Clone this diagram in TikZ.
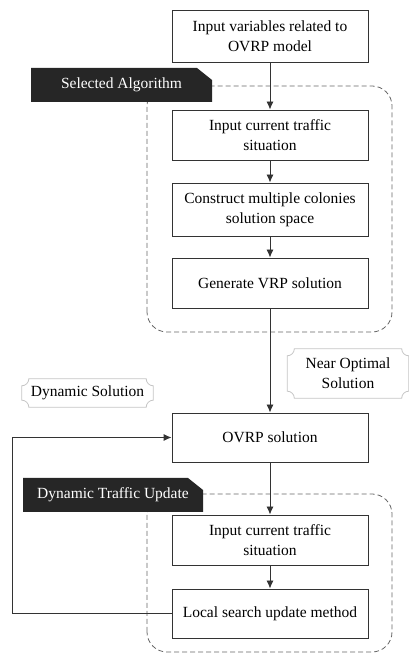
\documentclass[tikz,border=0pt]{standalone}
\usepackage{fontspec}
\setmainfont{Liberation Serif}
\usetikzlibrary{calc,arrows.meta}

\definecolor{tagdark}{HTML}{262626}
\definecolor{boxline}{HTML}{333333}
\definecolor{softline}{HTML}{C4C4C4}

% concave corner outline round a note node
\newcommand{\notchbox}[2][7]{%
\draw[softline,line width=0.8pt]
 ($(#2.north west)+(#1,0)$) -- ($(#2.north east)-(#1,0)$)
 arc[start angle=180,end angle=270,radius=#1]
 -- ($(#2.south east)+(0,#1)$) arc[start angle=90,end angle=180,radius=#1]
 -- ($(#2.south west)+(#1,0)$) arc[start angle=0,end angle=90,radius=#1]
 -- ($(#2.north west)-(0,#1)$) arc[start angle=270,end angle=360,radius=#1]
 -- cycle;}

\begin{document}
\begin{tikzpicture}[x=1pt,y=1pt,
  procbox/.style={draw=boxline,line width=0.9pt,align=center,
    minimum width=196pt,minimum height=50pt,inner sep=2pt,
    font=\fontsize{15.5}{20}\selectfont},
  flow/.style={draw=boxline,line width=0.9pt,-{Latex[length=8pt,width=7pt]}},
  groupline/.style={draw=gray!80!black,line width=0.8pt,
    dash pattern=on 5pt off 3pt,rounded corners=20pt},
  tag/.style={text=white,minimum height=34pt,inner sep=0pt,
    font=\fontsize{15.5}{18}\selectfont,
    path picture={\fill[tagdark] (path picture bounding box.south west)
      -- (path picture bounding box.north west)
      -- ([xshift=-15pt]path picture bounding box.north east)
      -- ([yshift=-12pt]path picture bounding box.north east)
      -- (path picture bounding box.south east) -- cycle;}},
  note/.style={align=center,inner sep=0pt,
    font=\fontsize{15.5}{20}\selectfont}]

\useasboundingbox (0,0) rectangle (409,655);

% dashed groups first, tags go over them
\draw[groupline] (147,323) rectangle (392,569);
\draw[groupline] (147,3) rectangle (392,161);

\node[procbox,minimum height=52pt] (vars) at (270,619) {Input variables related to\\OVRP model};
\node[procbox] (traffic1) at (270,520) {Input current traffic\\situation};
\node[procbox,minimum height=53pt] (colonies) at (270,445.5) {Construct multiple colonies\\solution space};
\node[procbox] (vrp) at (270,372) {Generate VRP solution};
\node[procbox,minimum height=49pt] (ovrp) at (270,217.5) {OVRP solution};
\node[procbox] (traffic2) at (270,115) {Input current traffic\\situation};
\node[procbox,minimum height=49pt] (local) at (270,41.5) {Local search update method};

\node[tag,minimum width=181pt] (algo) at (121.5,570) {Selected Algorithm};
\node[tag,minimum width=180pt] (dyntag) at (113,160) {Dynamic Traffic Update};

\node[note,minimum width=121pt,minimum height=49pt] (near) at (348,281.5) {Near Optimal\\Solution};
\notchbox{near}
\node[note,minimum width=131pt,minimum height=28pt] (dynsol) at (87.5,262) {Dynamic Solution};
\notchbox{dynsol}

\draw[flow] (vars) -- (traffic1);
\draw[flow] (traffic1) -- (colonies);
\draw[flow] (colonies) -- (vrp);
\draw[flow] (vrp) -- (ovrp);
\draw[flow] (ovrp) -- (traffic2);
\draw[flow] (traffic2) -- (local);

% feedback to the OVRP solution
\coordinate (back) at (12,0);
\draw[flow] (local.west) -- (local.west -| back) |- (ovrp.west);

\end{tikzpicture}
\end{document}
